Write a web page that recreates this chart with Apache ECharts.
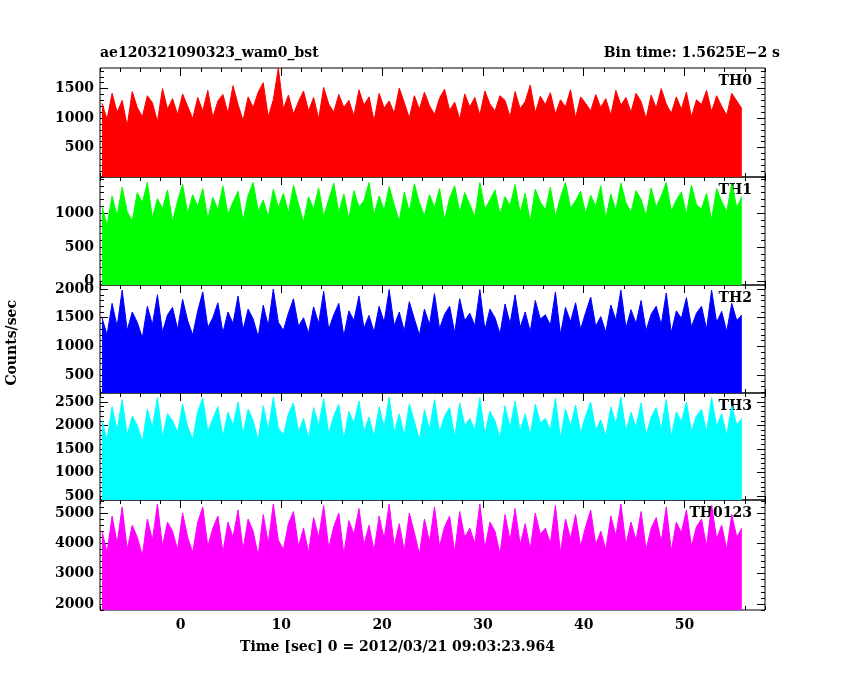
<!DOCTYPE html>
<html>
<head>
<meta charset="utf-8">
<script src="https://cdn.jsdelivr.net/npm/echarts@6/dist/echarts.min.js"></script>
<style>html,body{margin:0;background:#fff}#c{width:850px;height:680px}</style>
</head>
<body>
<div id="c"></div>
<script>
// 0.5 s bins starting at -7.8 s
var t0 = -7.8, dt = 0.5;
var names = ['TH0', 'TH1', 'TH2', 'TH3', 'TH0123'];
var colors = ['#ff0000', '#00ff00', '#0000ff', '#00ffff', '#ff00ff'];

var th0 = [1250,980,1420,1100,1300,870,1450,1180,1020,1380,1260,940,1500,1150,1330,1060,1410,1200,990,1350,
1120,1470,1010,1290,1400,1080,1550,1230,960,1360,1180,1440,1600,1020,1310,1850,1150,1390,1070,1280,
1460,1120,1350,990,1520,1240,1100,1400,1180,1300,1040,1480,1220,1360,950,1420,1170,1290,1080,1510,
1260,1000,1380,1150,1440,1210,1060,1340,1490,1130,1270,980,1410,1190,1350,1050,1460,1240,1120,1380,
1300,1020,1450,1160,1280,1560,1090,1370,1230,1430,1070,1310,1190,1480,1000,1360,1250,1120,1400,1180,
1330,1050,1470,1220,1350,1100,1420,1280,990,1390,1170,1500,1240,1080,1360,1150,1440,1020,1310,1230,
1470,1110,1380,1200,1050,1420,1290,1160];
var th1 = [1100,820,1250,960,1380,1020,880,1300,1150,1450,930,1210,1060,1340,870,1180,1420,990,1270,1100,
1360,910,1230,1050,1400,980,1160,1320,890,1260,1450,1030,1190,940,1350,1080,1290,1000,1410,1130,
870,1240,1060,1370,950,1200,1440,1010,1280,920,1330,1090,1180,1450,970,1250,1040,1390,1120,880,
1310,1020,1430,1150,960,1270,1080,1360,900,1220,1400,1010,1300,1130,940,1450,1060,1190,1340,980,
1240,1110,1420,1000,1290,870,1350,1160,1050,1380,950,1230,1450,1070,1180,1320,990,1260,1100,1400,
920,1280,1040,1440,1150,1010,1330,1200,960,1370,1090,1250,1450,1030,1190,1310,980,1410,1120,1060,
1290,900,1360,1170,1020,1430,1080,1240];
var th2 = [1500,1200,1750,1350,1980,1280,1600,1420,1150,1700,1380,1900,1250,1550,1680,1300,1820,1450,1200,1620,
1950,1330,1500,1760,1240,1600,1400,1880,1290,1650,1480,1170,1720,1360,2000,1420,1280,1580,1830,1350,
1500,1230,1690,1400,1960,1300,1550,1750,1180,1620,1450,1880,1320,1540,1250,1700,1420,1990,1360,1600,
1270,1780,1480,1200,1650,1380,1920,1310,1560,1700,1240,1830,1450,1580,1360,1990,1290,1650,1500,1220,
1740,1400,1900,1330,1600,1260,1800,1480,1550,1370,1950,1210,1680,1430,1760,1300,1590,1860,1350,1520,
1250,1720,1460,1980,1320,1640,1400,1800,1280,1560,1700,1380,1930,1240,1620,1490,1850,1340,1580,1700,
1300,1980,1420,1610,1260,1750,1450,1550];
var th3 = [2100,1700,2400,1900,2550,1800,2200,2000,1650,2350,1950,2600,1750,2250,2100,1850,2450,1980,1700,2300,
2580,1880,2150,2400,1760,2280,2000,2500,1820,2350,2100,1680,2420,1900,2600,1950,1800,2250,2480,1870,
2150,1720,2380,2000,2570,1830,2200,2450,1700,2300,2050,2520,1880,2180,1760,2400,1960,2600,1850,2250,
1780,2460,2080,1700,2330,1920,2550,1860,2200,2380,1750,2480,2000,2150,1900,2590,1820,2300,2100,1730,
2420,1950,2520,1880,2250,1790,2450,2060,2150,1900,2580,1720,2350,1990,2430,1850,2200,2500,1900,2120,
1780,2400,2030,2600,1870,2280,1960,2480,1800,2170,2380,1930,2550,1760,2290,2080,2500,1880,2200,2350,
1850,2590,1980,2250,1790,2420,2010,2150];
var th0123 = [4400,3700,4900,4000,5200,3800,4600,4200,3600,4800,4100,5300,3900,4700,4400,3800,5000,4200,3700,4700,
5200,3900,4500,4900,3700,4700,4200,5100,3800,4800,4400,3600,4950,4000,5300,4100,3800,4650,5050,3900,
4500,3700,4850,4200,5250,3850,4550,5000,3650,4750,4300,5150,3950,4600,3750,4900,4150,5300,3900,4650,
3750,5000,4350,3650,4800,4050,5200,3900,4550,4900,3700,5050,4200,4500,4000,5300,3850,4700,4400,3650,
4950,4100,5150,3950,4650,3800,5000,4300,4500,4000,5250,3700,4800,4150,4950,3900,4550,5100,3950,4400,
3800,4900,4250,5300,3950,4700,4100,5050,3800,4500,4850,4050,5200,3750,4700,4350,5100,3900,4550,4800,
3900,5250,4150,4600,3800,4950,4200,4500];

var seriesData = [th0, th1, th2, th3, th0123];
var yMin = [0, -60, 190, 420, 1800];
var yMax = [1850, 1530, 2070, 2690, 5430];
var yLabels = [[500,1000,1500],[0,500,1000],[500,1000,1500,2000],[500,1000,1500,2000,2500],[2000,3000,4000,5000]];
var yMinor = [100, 100, 100, 100, 200];
var xMajor = [0, 10, 20, 30, 40, 50];
var xMinorVals = [];
for (var v = -8; v <= 58; v += 2) xMinorVals.push(v);

var tops = [68, 177, 285, 393, 500];
var heights = [109, 108, 108, 107, 110];
var font = 'DejaVu Serif';

var grids = [], xAxes = [], yAxes = [], series = [], graphics = [];

function rng(a, b, s) { var r = []; for (var v = Math.ceil(a / s) * s; v <= b; v += s) r.push(v); return r; }
function plain(v) { return String(v); }

for (var i = 0; i < 5; i++) {
    grids.push({left: 100, right: 85, top: tops[i], height: heights[i],
        show: true, borderColor: '#000', borderWidth: 1, backgroundColor: 'transparent'});
    var lastRow = (i === 4);
    // bottom major, top major, bottom minor, top minor
    [['bottom', 8, xMajor, lastRow], ['top', 8, xMajor, false],
     ['bottom', 4, xMinorVals, false], ['top', 4, xMinorVals, false]].forEach(function (d) {
        xAxes.push({type: 'value', gridIndex: i, min: -8, max: 58, position: d[0],
            axisLine: {show: false, onZero: false}, splitLine: {show: false},
            axisTick: {show: true, inside: true, length: d[1], customValues: d[2], lineStyle: {color: '#000'}},
            axisLabel: {show: d[3], customValues: d[2], formatter: plain, color: '#000', fontFamily: font, fontSize: 14, fontWeight: 'bold', margin: 8}});
    });
    var mn = rng(yMin[i], yMax[i], yMinor[i]);
    [['left', 8, yLabels[i], true], ['right', 8, yLabels[i], false],
     ['left', 4, mn, false], ['right', 4, mn, false]].forEach(function (d) {
        yAxes.push({type: 'value', gridIndex: i, min: yMin[i], max: yMax[i], position: d[0],
            axisLine: {show: false, onZero: false}, splitLine: {show: false},
            axisTick: {show: true, inside: true, length: d[1], customValues: d[2], lineStyle: {color: '#000'}},
            axisLabel: {show: d[3], customValues: d[2], formatter: plain, color: '#000', fontFamily: font, fontSize: 14, fontWeight: 'bold', margin: 6}});
    });
    var pts = seriesData[i].map(function (y, k) { return [t0 + k * dt, y]; });
    series.push({type: 'line', xAxisIndex: i * 4, yAxisIndex: i * 4, data: pts, symbol: 'none',
        lineStyle: {color: colors[i], width: 1},
        areaStyle: {color: colors[i], opacity: 1, origin: 'start'}, silent: true, animation: false});
    graphics.push({type: 'text', right: 850 - 752, top: tops[i] + 6,
        style: {text: names[i], font: 'bold 14px ' + font, fill: '#000', textAlign: 'right'}});
}

graphics.push({type: 'text', left: 100, top: 46, style: {text: 'ae120321090323_wam0_bst', font: 'bold 14px ' + font, fill: '#000'}});
graphics.push({type: 'text', right: 70, top: 46, style: {text: 'Bin time: 1.5625E\u22122 s', font: 'bold 14px ' + font, fill: '#000'}});
graphics.push({type: 'text', left: 240, top: 640, style: {text: 'Time [sec] 0 = 2012/03/21 09:03:23.964', font: 'bold 14px ' + font, fill: '#000'}});
graphics.push({type: 'text', left: 5, top: 300, rotation: Math.PI / 2, style: {text: 'Counts/sec', font: 'bold 14px ' + font, fill: '#000'}});

var chart = echarts.init(document.getElementById('c'));
chart.setOption({
    animation: false,
    grid: grids, xAxis: xAxes, yAxis: yAxes, series: series, graphic: graphics
});
</script>
</body>
</html>
